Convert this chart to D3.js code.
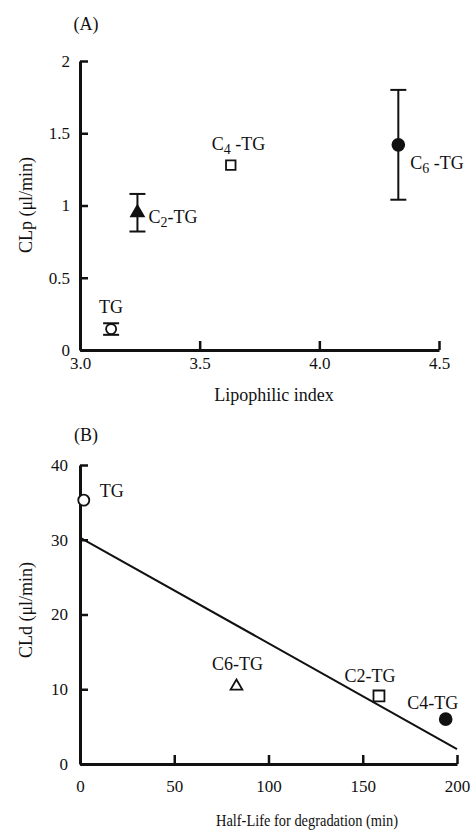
<!DOCTYPE html>
<html><head><meta charset="utf-8">
<script src="https://cdn.jsdelivr.net/npm/d3@7"></script>
<style>
html,body{margin:0;padding:0;background:#fff;}
svg text{font-family:"Liberation Serif","DejaVu Serif",serif;fill:#111;}
</style></head>
<body><svg id="c" width="471" height="831"></svg>
<script>
// Panel A data
const namesA = ["TG", "C2-TG", "C4-TG", "C6-TG"];
const lipoIndex = [3.13, 3.24, 3.63, 4.33];
const clp = [0.145, 0.95, 1.28, 1.42];
const clpErr = [0.04, 0.13, 0, 0.38];
const xTicksA = [3.0, 3.5, 4.0, 4.5];
const yTicksA = [0, 0.5, 1, 1.5, 2];
// Panel B data
const namesB = ["TG", "C6-TG", "C2-TG", "C4-TG"];
const halfLife = [2, 83, 158.6, 194];
const cld = [35.3, 10.4, 9.1, 6.0];
const fitX = [0, 200];
const fitY = [30.3, 2.0];
const xTicksB = [0, 50, 100, 150, 200];
const yTicksB = [0, 10, 20, 30, 40];

const svg = d3.select("#c");
const TFS = 17;   // tick font size
const LFS = 18;   // label font size

function drawAxes(g, x, y, xt, yt, xfmt, yfmt, xpad, ypad) {
  const ax = d3.axisBottom(x).tickValues(xt).tickFormat(xfmt).tickSizeInner(-9).tickSizeOuter(0).tickPadding(xpad);
  const ay = d3.axisLeft(y).tickValues(yt).tickFormat(yfmt).tickSizeInner(-8).tickSizeOuter(0).tickPadding(ypad);
  const gx = g.append("g").attr("transform", `translate(0,${y.range()[0]})`).call(ax);
  const gy = g.append("g").attr("transform", `translate(${x.range()[0]},0)`).call(ay);
  [gx, gy].forEach(a => {
    a.select(".domain").attr("stroke", "#111").attr("stroke-width", 3);
    a.selectAll(".tick line").attr("stroke", "#111").attr("stroke-width", 2.5);
    a.selectAll(".tick text").attr("font-size", TFS).attr("font-family", "Liberation Serif").attr("fill", "#111");
  });
}

// ---------- Panel A ----------
const xA = d3.scaleLinear().domain([3.0, 4.5]).range([80, 439]);
const yA = d3.scaleLinear().domain([0, 2]).range([350, 61]);
const gA = svg.append("g");
drawAxes(gA, xA, yA, xTicksA, yTicksA, d3.format(".1f"), d => String(d), 7, 10);

svg.append("text").attr("x", 86).attr("y", 30).attr("text-anchor", "middle").attr("font-size", LFS).text("(A)");
svg.append("text").attr("transform", "translate(32,205) rotate(-90)").attr("text-anchor", "middle").attr("font-size", LFS)
  .text("CLp (μl/min)");
svg.append("text").attr("x", 274).attr("y", 401).attr("text-anchor", "middle").attr("font-size", LFS).text("Lipophilic index");

// error bars
namesA.forEach((n, i) => {
  if (clpErr[i] <= 0) return;
  const cx = xA(lipoIndex[i]);
  const y1 = yA(clp[i] + clpErr[i]), y2 = yA(clp[i] - clpErr[i]);
  const e = gA.append("g").attr("stroke", "#111").attr("stroke-width", 2);
  e.append("line").attr("x1", cx).attr("x2", cx).attr("y1", y1).attr("y2", y2);
  e.append("line").attr("x1", cx - 8).attr("x2", cx + 8).attr("y1", y1).attr("y2", y1);
  e.append("line").attr("x1", cx - 8).attr("x2", cx + 8).attr("y1", y2).attr("y2", y2);
});
// markers A
const symA = [
  {t: d3.symbolCircle, s: 80, fill: "#fff"},
  {t: d3.symbolTriangle, s: 70, fill: "#111"},
  {t: d3.symbolSquare, s: 90, fill: "#fff"},
  {t: d3.symbolCircle, s: 110, fill: "#111"}
];
namesA.forEach((n, i) => {
  gA.append("path").attr("d", d3.symbol().type(symA[i].t).size(symA[i].s)())
    .attr("transform", `translate(${xA(lipoIndex[i])},${yA(clp[i])})`)
    .attr("fill", symA[i].fill).attr("stroke", "#111").attr("stroke-width", 1.8);
});
// labels A
function subLabel(g, x, y, pre, sub, post, anchor) {
  const t = g.append("text").attr("x", x).attr("y", y).attr("font-size", LFS).attr("text-anchor", anchor || "start");
  t.append("tspan").text(pre);
  if (sub) {
    t.append("tspan").attr("dy", 4).attr("font-size", 14).text(sub);
    t.append("tspan").attr("dy", -4).text(post);
  }
  return t;
}
const labA = [
  {dx: 0, dy: -16, pre: "TG", sub: null, post: "", a: "middle"},
  {dx: 11, dy: 10, pre: "C", sub: "2", post: "-TG", a: "start"},
  {dx: -19, dy: -15, pre: "C", sub: "4", post: " -TG", a: "start"},
  {dx: 12, dy: 24, pre: "C", sub: "6", post: " -TG", a: "start"}
];
namesA.forEach((n, i) => {
  const L = labA[i];
  subLabel(gA, xA(lipoIndex[i]) + L.dx, yA(clp[i]) + L.dy, L.pre, L.sub, L.post, L.a);
});

// ---------- Panel B ----------
const xB = d3.scaleLinear().domain([0, 200]).range([80, 457]);
const yB = d3.scaleLinear().domain([0, 40]).range([764, 465]);
const gB = svg.append("g");
drawAxes(gB, xB, yB, xTicksB, yTicksB, d => String(d), d => String(d), 16, 12);

svg.append("text").attr("x", 86).attr("y", 441).attr("text-anchor", "middle").attr("font-size", LFS).text("(B)");
svg.append("text").attr("transform", "translate(32,610) rotate(-90)").attr("text-anchor", "middle").attr("font-size", LFS)
  .text("CLd (μl/min)");
svg.append("text").attr("x", 307).attr("y", 826).attr("text-anchor", "middle").attr("font-size", 16.5)
  .attr("textLength", 182).attr("lengthAdjust", "spacingAndGlyphs")
  .text("Half-Life for degradation (min)");

gB.append("path").datum(fitX.map((v, i) => [v, fitY[i]]))
  .attr("d", d3.line().x(d => xB(d[0])).y(d => yB(d[1])))
  .attr("stroke", "#111").attr("stroke-width", 2).attr("fill", "none");

const symB = [
  {t: d3.symbolCircle, s: 95, fill: "#fff"},
  {t: d3.symbolTriangle, s: 60, fill: "#fff"},
  {t: d3.symbolSquare, s: 120, fill: "#fff"},
  {t: d3.symbolCircle, s: 110, fill: "#111"}
];
namesB.forEach((n, i) => {
  gB.append("path").attr("d", d3.symbol().type(symB[i].t).size(symB[i].s)())
    .attr("transform", `translate(${xB(halfLife[i])},${yB(cld[i])})`)
    .attr("fill", symB[i].fill).attr("stroke", "#111").attr("stroke-width", 1.8);
});
const labB = [
  {dx: 16, dy: -3, a: "start"},
  {dx: 1, dy: -16, a: "middle"},
  {dx: -9, dy: -14, a: "middle"},
  {dx: -13, dy: -10, a: "middle"}
];
namesB.forEach((n, i) => {
  const L = labB[i];
  gB.append("text").attr("x", xB(halfLife[i]) + L.dx).attr("y", yB(cld[i]) + L.dy)
    .attr("text-anchor", L.a).attr("font-size", LFS).text(n);
});
</script></body></html>
